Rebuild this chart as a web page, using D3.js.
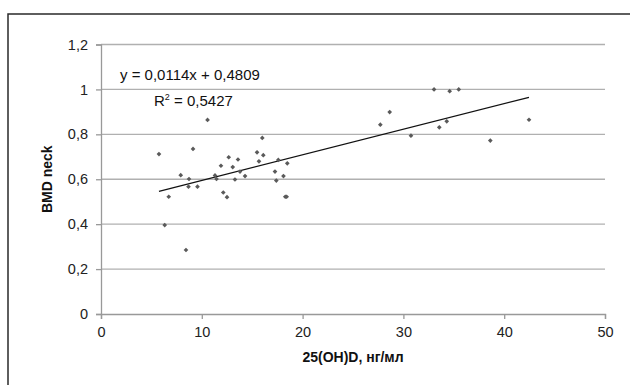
<!DOCTYPE html>
<html>
<head>
<meta charset="utf-8">
<script src="https://cdn.jsdelivr.net/npm/d3@7"></script>
<style>
  body { margin: 0; background: #fff; }
  svg { display: block; font-family: "Liberation Sans", Arial, sans-serif; }
</style>
</head>
<body>
<svg id="chart" width="630" height="385"></svg>
<script>
// 25(OH)D, нг/мл
const vitD = [
  5.75, 6.32, 6.72, 7.91, 8.43, 8.73, 8.68, 9.13, 9.57, 10.57,
  11.31, 11.46, 11.90, 12.13, 12.50, 12.67, 13.07, 13.29, 13.59, 13.79,
  14.29, 15.48, 15.67, 16.00, 16.10, 17.26, 17.39, 17.59, 18.10, 18.28,
  18.42, 18.48, 27.71, 28.64, 30.75, 33.04, 33.56, 34.30, 34.59, 35.49,
  38.62, 42.46
];
// BMD neck
const bmd = [
  0.712, 0.396, 0.522, 0.618, 0.285, 0.601, 0.567, 0.735, 0.567, 0.864,
  0.617, 0.601, 0.660, 0.541, 0.520, 0.698, 0.654, 0.599, 0.688, 0.634,
  0.614, 0.720, 0.680, 0.784, 0.707, 0.634, 0.594, 0.686, 0.614, 0.522,
  0.522, 0.671, 0.843, 0.899, 0.794, 1.000, 0.831, 0.858, 0.992, 1.000,
  0.772, 0.865
];
const xTicks = [0, 10, 20, 30, 40, 50];
const yTicks = [0, 0.2, 0.4, 0.6, 0.8, 1, 1.2];
const slope = 0.0114, intercept = 0.4809, r2 = "0,5427";

const svg = d3.select('#chart');
const fmt = d => String(d).replace('.', ',');

// outer frame
svg.append('rect').attr('x', 8).attr('y', 14).attr('width', 640).attr('height', 400)
  .attr('fill', 'none').attr('stroke', '#2a2a2a').attr('stroke-width', 1.5);

const x = d3.scaleLinear().domain([0, 50]).range([101, 605]);
const y = d3.scaleLinear().domain([0, 1.2]).range([314, 44.5]);

// gridlines
svg.append('g').selectAll('line').data(yTicks.filter(d => d > 0)).join('line')
  .attr('x1', x(0)).attr('x2', x(50))
  .attr('y1', d => y(d)).attr('y2', d => y(d))
  .attr('stroke', '#b0b0b0').attr('stroke-width', 1.3);

// y axis
const yAxis = svg.append('g').attr('transform', `translate(${x(0)},0)`)
  .call(d3.axisLeft(y).tickValues(yTicks).tickFormat(fmt).tickSize(5).tickPadding(8));
// x axis
const xAxis = svg.append('g').attr('transform', `translate(0,${y(0)})`)
  .call(d3.axisBottom(x).tickValues(xTicks).tickSize(5).tickPadding(8));

[yAxis, xAxis].forEach(a => {
  a.select('.domain').attr('stroke', '#999').attr('stroke-width', 1.3);
  a.selectAll('.tick line').attr('stroke', '#999').attr('stroke-width', 1.3);
  a.selectAll('.tick text').attr('fill', '#222').attr('font-size', 14.5)
    .attr('font-family', '"Liberation Sans", Arial, sans-serif');
});

// trend line
const xMin = d3.min(vitD), xMax = d3.max(vitD);
svg.append('line')
  .attr('x1', x(xMin)).attr('y1', y(slope * xMin + intercept))
  .attr('x2', x(xMax)).attr('y2', y(slope * xMax + intercept))
  .attr('stroke', '#111').attr('stroke-width', 1.3);

// points (small square diamonds)
const marker = d3.symbol().type(d3.symbolSquare).size(11);
svg.append('g').selectAll('path').data(vitD).join('path')
  .attr('d', marker)
  .attr('transform', (d, i) => `translate(${x(d)},${y(bmd[i])}) rotate(45)`)
  .attr('fill', '#5a5a5a');

// equation
svg.append('text').attr('x', 120).attr('y', 80).attr('font-size', 15).attr('fill', '#111')
  .text('y = 0,0114x + 0,4809');
const r = svg.append('text').attr('x', 154).attr('y', 106).attr('font-size', 15).attr('fill', '#111');
r.append('tspan').text('R');
r.append('tspan').attr('dy', -6).attr('font-size', 9).text('2');
r.append('tspan').attr('dy', 6).text(' = ' + r2);

// axis titles
svg.append('text').attr('transform', `translate(52,${y(0.6)}) rotate(-90)`)
  .attr('text-anchor', 'middle').attr('font-size', 14).attr('font-weight', 'bold').attr('fill', '#111')
  .text('BMD neck');
svg.append('text').attr('x', x(25)).attr('y', 362)
  .attr('text-anchor', 'middle').attr('font-size', 14).attr('font-weight', 'bold').attr('fill', '#111')
  .text('25(OH)D, нг/мл');
</script>
</body>
</html>
